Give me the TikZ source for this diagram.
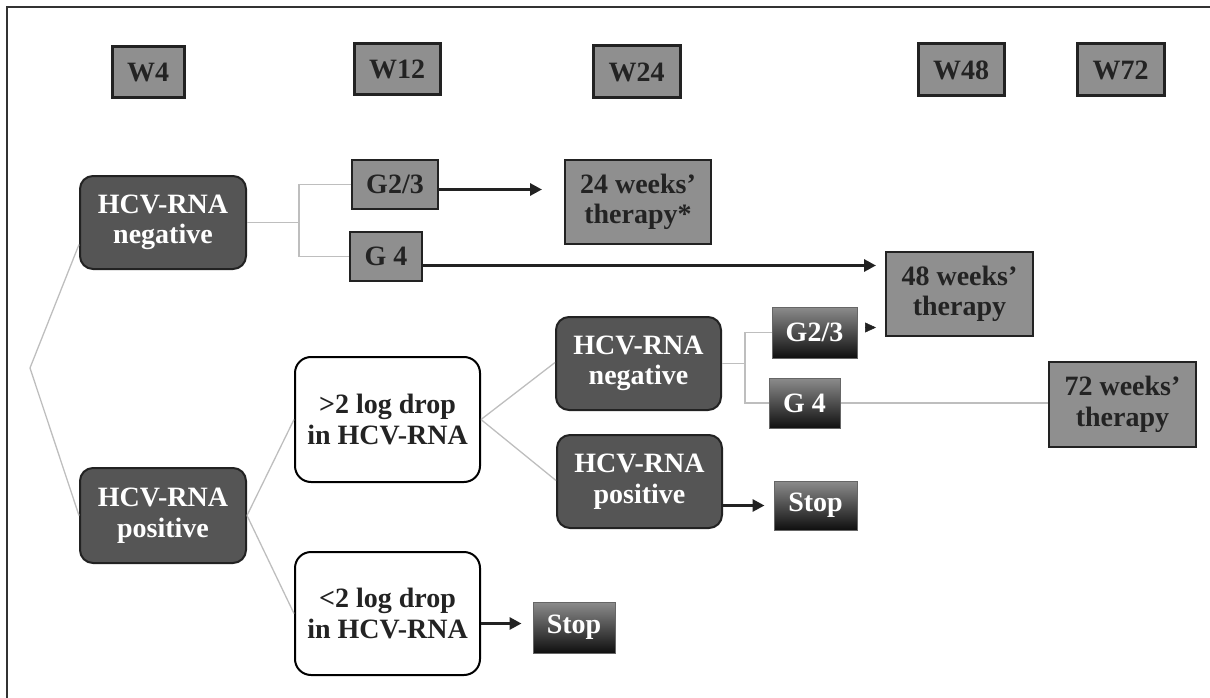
\documentclass[tikz,border=0pt]{standalone}
\usepackage{fontspec}
\setmainfont{Liberation Serif}
\usetikzlibrary{calc,arrows.meta}
\definecolor{boxgray}{RGB}{143,143,143}
\definecolor{darkfill}{RGB}{85,85,85}
\definecolor{edgedark}{RGB}{34,34,34}
\definecolor{txtdark}{RGB}{35,35,35}
\definecolor{connlight}{RGB}{190,190,190}
\definecolor{gradtop}{RGB}{140,140,140}
\definecolor{gradbot}{RGB}{15,15,15}
\tikzset{
  base/.style={inner sep=0pt, align=center, font=\fontsize{28}{30.5}\selectfont\bfseries},
  weekbox/.style={base, draw=edgedark, line width=3pt, fill=boxgray, text=txtdark},
  graybox/.style={base, draw=edgedark, line width=2pt, fill=boxgray, text=txtdark},
  darkbox/.style={base, draw=edgedark, line width=2pt, fill=darkfill, text=white, rounded corners=13pt},
  whitebox/.style={base, draw=black, line width=2pt, fill=white, text=txtdark, rounded corners=16pt},
  gradbox/.style={base, draw=gray!80!black, line width=1pt, top color=gradtop, bottom color=gradbot, text=white},
  conn/.style={draw=connlight, line width=1.3pt},
  arr/.style={draw=edgedark, line width=3.3pt, -{Triangle[length=12pt,width=12pt]}},
  frameline/.style={draw=black!80, line width=1.8pt}
}
\begin{document}
\begin{tikzpicture}[x=1pt,y=-1pt]
\useasboundingbox (0,0) rectangle (1210,698);
\draw[frameline] (7,698) -- (7,7) -- (1210,7);

% week headers
\node[weekbox, minimum width=72pt, minimum height=51pt] (w4)  at (148,72.5) {W4};
\node[weekbox, minimum width=86pt, minimum height=51pt] (w12) at (397,69.5) {W12};
\node[weekbox, minimum width=87pt, minimum height=52pt] (w24) at (636.5,72) {W24};
\node[weekbox, minimum width=86pt, minimum height=52pt] (w48) at (961,70) {W48};
\node[weekbox, minimum width=87pt, minimum height=52pt] (w72) at (1120.5,70) {W72};

% W4 level
\node[darkbox, minimum width=166pt, minimum height=93pt] (negA) at (163,222.5) {HCV-RNA\\negative};
\node[darkbox, minimum width=166pt, minimum height=95pt] (posA) at (163,515.5) {HCV-RNA\\positive};

% upper branch
\node[graybox, minimum width=86pt, minimum height=49pt] (g23a) at (395,184.5) {G2/3};
\node[graybox, minimum width=72pt, minimum height=49pt] (g4a) at (386,256.5) {G 4};
\node[graybox, minimum width=146pt, minimum height=84pt] (t24) at (638,202) {24 weeks’\\therapy*};
\node[graybox, minimum width=147pt, minimum height=84pt] (t48) at (959.5,294) {48 weeks’\\therapy};
\node[graybox, minimum width=147pt, minimum height=85pt] (t72) at (1122.5,404.5) {72 weeks’\\therapy};

% W12 level
\node[whitebox, minimum width=185pt, minimum height=125pt] (up) at (387.5,419.5) {>2 log drop\\in HCV-RNA};
\node[whitebox, minimum width=185pt, minimum height=123pt] (down) at (387.5,613.5) {<2 log drop\\in HCV-RNA};

% W24 level
\node[darkbox, minimum width=165pt, minimum height=93pt] (negB) at (638.5,363.5) {HCV-RNA\\negative};
\node[darkbox, minimum width=165pt, minimum height=93pt] (posB) at (639.5,481.5) {HCV-RNA\\positive};
\node[gradbox, minimum width=85pt, minimum height=51pt] (g23b) at (814.5,332.5) {G2/3};
\node[gradbox, minimum width=71pt, minimum height=50pt] (g4b) at (804.5,403) {G 4};
\node[gradbox, minimum width=83pt, minimum height=49pt] (stopB) at (815.5,505.5) {Stop};
\node[gradbox, minimum width=82pt, minimum height=51pt] (stopC) at (574,627.5) {Stop};

% connectors
\coordinate (zz) at (30,368);
\draw[conn] ($(negA.west)+(0,22)$) -- (zz) -- (posA.west);
\draw[conn] (negA.east) -- ++(52,0) coordinate (bA);
\draw[conn] (g23a.west) -| (bA) |- (g4a.west);
\draw[conn] (posA.east) -- (up.west);
\draw[conn] (posA.east) -- (down.west);
\draw[conn] (up.east) -- ($(negB.west)+(0,-1)$);
\draw[conn] (up.east) -- ($(posB.west)+(0,-1)$);
\draw[conn] (negB.east) -- ++(23,0) coordinate (bB);
\draw[conn] (g23b.west) -| (bB) |- (g4b.west);
\draw[conn] (g4b.east) -- (g4b.east -| t72.west);

\draw[arr] ($(g23a.east)+(0,5)$) -- ($(g23a.east -| t24.west)+(-22,5)$);
\draw[arr, shorten >=9pt] ($(g4a.east)+(0,9)$) -- ($(g4a.east -| t48.west)+(0,9)$);
\draw[draw=edgedark, line width=0.5pt, -{Triangle[length=11pt,width=10pt]}, shorten <=9pt, shorten >=9pt] ($(g23b.east)+(0,-5)$) -- ($(g23b.east -| t48.west)+(0,-5)$);
\draw[arr, shorten >=9pt] (posB.east |- stopB.west) -- (stopB.west);
\draw[arr, shorten >=11pt] ($(down.east)+(0,10)$) -- ($(down.east -| stopC.west)+(0,10)$);
\end{tikzpicture}
\end{document}
